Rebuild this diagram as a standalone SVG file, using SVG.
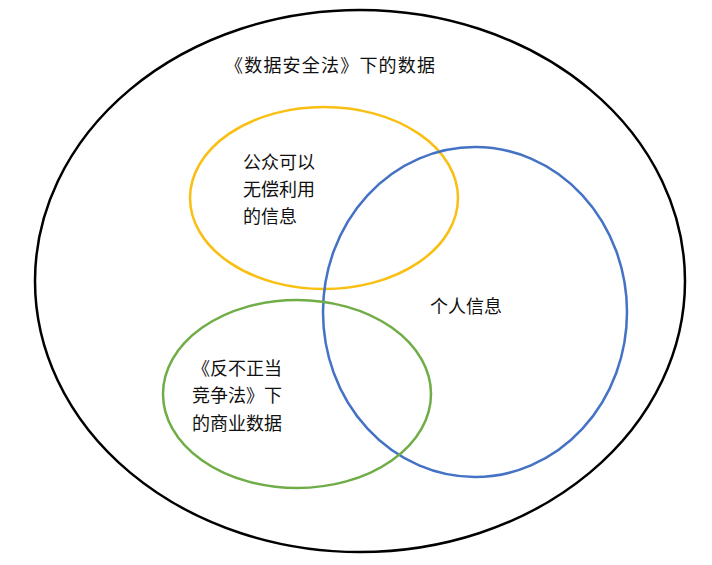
<svg xmlns="http://www.w3.org/2000/svg" width="712" height="565" viewBox="0 0 712 565">
<style>
text{font-family:"Noto Sans CJK SC","Noto Sans",sans-serif;font-size:18px;fill:#111}
.e{fill:none;stroke-width:2.5}
</style>
<rect width="712" height="565" fill="#fff"/>
<g id="outer"><ellipse class="e" cx="360" cy="281" rx="325" ry="271" stroke="#000"/>
<text x="225" y="72" font-size="22" letter-spacing="1.2">《数据安全法》下的数据</text></g>
<g id="public"><ellipse class="e" cx="324" cy="198" rx="134" ry="91" stroke="#F9BF12"/>
<text x="243" y="169">公众可以</text><text x="243" y="196">无偿利用</text><text x="243" y="223">的信息</text></g>
<g id="personal"><ellipse class="e" cx="475" cy="312" rx="152" ry="165" stroke="#4472C4"/>
<text x="430" y="313">个人信息</text></g>
<g id="commercial"><ellipse class="e" cx="297" cy="394" rx="134" ry="94" stroke="#70AD47"/>
<text x="192" y="375">《反不正当</text><text x="192" y="402">竞争法》下</text><text x="192" y="430">的商业数据</text></g>
<g id="connectors"/>
</svg>
